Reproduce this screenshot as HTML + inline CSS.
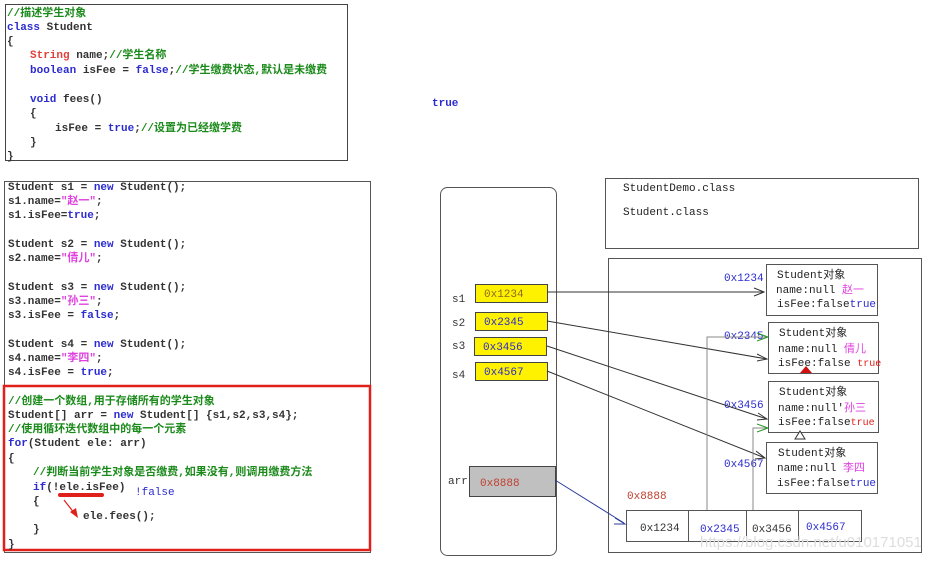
<!DOCTYPE html>
<html><head><meta charset="utf-8"><style>
html,body{margin:0;padding:0;background:#fff;}
svg{display:block;}
.c{font-family:"Liberation Mono","Noto Sans CJK SC",monospace;font-size:11px;font-weight:bold;}
.s{font-family:"Liberation Mono","Noto Sans CJK SC",monospace;font-size:11px;}
</style></head><body>
<svg width="929" height="561" viewBox="0 0 929 561" xmlns="http://www.w3.org/2000/svg">
<!-- class box -->
<rect x="5.5" y="4.5" width="342" height="156" fill="#fff" stroke="#444"/>
<g class="c">
<text x="7" y="16" fill="#1a8a1a">//描述学生对象</text>
<text x="7" y="30"><tspan fill="#2b2bd0">class</tspan><tspan fill="#333"> Student</tspan></text>
<text x="7" y="44" fill="#333">{</text>
<text x="30" y="58"><tspan fill="#e0403a">String</tspan><tspan fill="#333"> name;</tspan><tspan fill="#1a8a1a">//学生名称</tspan></text>
<text x="30" y="73"><tspan fill="#2b2bd0">boolean</tspan><tspan fill="#333"> isFee = </tspan><tspan fill="#2b2bd0">false</tspan><tspan fill="#333">;</tspan><tspan fill="#1a8a1a">//学生缴费状态,默认是未缴费</tspan></text>
<text x="30" y="102"><tspan fill="#2b2bd0">void</tspan><tspan fill="#333"> fees()</tspan></text>
<text x="30" y="116" fill="#333">{</text>
<text x="55" y="131"><tspan fill="#333">isFee = </tspan><tspan fill="#2b2bd0">true</tspan><tspan fill="#333">;</tspan><tspan fill="#1a8a1a">//设置为已经缴学费</tspan></text>
<text x="30" y="145" fill="#333">}</text>
<text x="7" y="159" fill="#333">}</text>
</g>
<text x="432" y="106" class="s" fill="#2b2bd0" font-weight="bold">true</text>

<!-- code box 2 -->
<rect x="4.5" y="181.5" width="366" height="371" fill="#fff" stroke="#555"/>
<g class="c" fill="#333">
<text x="8" y="190">Student s1  = <tspan fill="#2b2bd0">new</tspan> Student();</text>
<text x="8" y="204">s1.name=<tspan fill="#e040e0">"赵一"</tspan>;</text>
<text x="8" y="218">s1.isFee=<tspan fill="#2b2bd0">true</tspan>;</text>
<text x="8" y="247">Student s2  = <tspan fill="#2b2bd0">new</tspan> Student();</text>
<text x="8" y="261">s2.name=<tspan fill="#e040e0">"倩儿"</tspan>;</text>
<text x="8" y="290">Student s3  = <tspan fill="#2b2bd0">new</tspan> Student();</text>
<text x="8" y="304">s3.name=<tspan fill="#e040e0">"孙三"</tspan>;</text>
<text x="8" y="318">s3.isFee  = <tspan fill="#2b2bd0">false</tspan>;</text>
<text x="8" y="347">Student s4  = <tspan fill="#2b2bd0">new</tspan> Student();</text>
<text x="8" y="361">s4.name=<tspan fill="#e040e0">"李四"</tspan>;</text>
<text x="8" y="375">s4.isFee  = <tspan fill="#2b2bd0">true</tspan>;</text>
</g>
<rect x="4" y="386" width="366" height="164" fill="none" stroke="#e0201a" stroke-width="2.5"/>
<g class="c" fill="#333">
<text x="8" y="404" fill="#1a8a1a">//创建一个数组,用于存储所有的学生对象</text>
<text x="8" y="418">Student[] arr = <tspan fill="#2b2bd0">new</tspan> Student[] {s1,s2,s3,s4};</text>
<text x="8" y="432" fill="#1a8a1a">//使用循环迭代数组中的每一个元素</text>
<text x="8" y="446"><tspan fill="#2b2bd0">for</tspan>(Student ele: arr)</text>
<text x="8" y="461">{</text>
<text x="33" y="475" fill="#1a8a1a">//判断当前学生对象是否缴费,如果没有,则调用缴费方法</text>
<text x="33" y="490"><tspan fill="#2b2bd0">if</tspan>(!ele.isFee)</text>
<text x="33" y="504">{</text>
<text x="83" y="519">ele.fees();</text>
<text x="33" y="532">}</text>
<text x="8" y="547">}</text>
</g>
<text x="135" y="495" class="s" fill="#2b2bd0">!false</text>
<line x1="60" y1="495" x2="102" y2="495" stroke="#e0201a" stroke-width="4" stroke-linecap="round"/>
<line x1="64" y1="500" x2="75" y2="514" stroke="#e0201a" stroke-width="1.2"/>
<polygon points="78,518 70,512 76,508" fill="#e0201a"/>

<!-- stack -->
<rect x="440.5" y="187.5" width="116" height="368" rx="7" fill="#fff" stroke="#555"/>
<g class="s" fill="#333">
<text x="452" y="302">s1</text><text x="452" y="326">s2</text><text x="452" y="349">s3</text><text x="452" y="378">s4</text><text x="448" y="484">arr</text>
</g>
<g stroke="#444" fill="#fff200">
<rect x="475.5" y="284.5" width="72" height="18"/>
<rect x="475.5" y="312.5" width="72" height="18"/>
<rect x="474.5" y="337.5" width="72" height="18"/>
<rect x="475.5" y="362.5" width="72" height="18"/>
</g>
<g class="s">
<text x="484" y="297" fill="#8a6a20">0x1234</text>
<text x="484" y="325" fill="#2b2bd0">0x2345</text>
<text x="483" y="350" fill="#2b2bd0">0x3456</text>
<text x="484" y="375" fill="#2b2bd0">0x4567</text>
</g>
<rect x="469.5" y="466.5" width="86" height="30" fill="#c0c0c0" stroke="#444"/>
<text x="480" y="486" class="s" fill="#c04030">0x8888</text>

<!-- method area -->
<rect x="605.5" y="178.5" width="313" height="70" fill="#fff" stroke="#555"/>
<text x="623" y="191" class="s" fill="#222">StudentDemo.class</text>
<text x="623" y="215" class="s" fill="#222">Student.class</text>

<!-- heap -->
<rect x="608.5" y="258.5" width="313" height="294" fill="#fff" stroke="#555"/>
<g stroke="#555" fill="#fff">
<rect x="766.5" y="264.5" width="111" height="51"/>
<rect x="768.5" y="322.5" width="110" height="51"/>
<rect x="768.5" y="381.5" width="110" height="51"/>
<rect x="766.5" y="442.5" width="111" height="51"/>
<rect x="626.5" y="510.5" width="235" height="31"/>
</g>
<g stroke="#555"><line x1="688.5" y1="510" x2="688.5" y2="542"/><line x1="746.5" y1="510" x2="746.5" y2="542"/><line x1="798.5" y1="510" x2="798.5" y2="542"/></g>
<g class="s" fill="#222">
<text x="777" y="278">Student对象</text><text x="776" y="293">name:null <tspan fill="#e040e0">赵一</tspan></text><text x="777" y="307">isFee:false<tspan fill="#2b2bd0">true</tspan></text>
<text x="779" y="336">Student对象</text><text x="778" y="352">name:null <tspan fill="#e040e0">倩儿</tspan></text><text x="778" y="366">isFee:false <tspan fill="#e0201a" font-size="10">true</tspan></text>
<text x="779" y="395">Student对象</text><text x="778" y="411">name:null'<tspan fill="#e040e0">孙三</tspan></text><text x="778" y="425">isFee:false<tspan fill="#e0201a" font-size="10">true</tspan></text>
<text x="778" y="456">Student对象</text><text x="777" y="471">name:null <tspan fill="#e040e0">李四</tspan></text><text x="777" y="486">isFee:false<tspan fill="#2b2bd0">true</tspan></text>
</g>
<g class="s" fill="#2b2bd0">
<text x="724" y="281">0x1234</text><text x="724" y="339">0x2345</text><text x="724" y="408">0x3456</text><text x="724" y="467">0x4567</text>
<text x="640" y="531" fill="#333">0x1234</text><text x="700" y="532">0x2345</text><text x="752" y="532" fill="#333">0x3456</text><text x="806" y="530">0x4567</text>
</g>
<text x="627" y="499" class="s" fill="#c04030">0x8888</text>
<!-- connectors -->
<g stroke="#333" fill="none" stroke-width="1">
<line x1="547" y1="292" x2="764" y2="292"/><polyline points="754,288 764,292 754,296"/>
<line x1="547" y1="321" x2="767" y2="359"/><polyline points="757,354 767,359 757,361"/>
<line x1="547" y1="346" x2="767" y2="419"/><polyline points="758,413 767,419 757,420"/>
<line x1="547" y1="371" x2="765" y2="458"/><polyline points="756,451 765,458 755,459"/>
<line x1="555" y1="480" x2="624" y2="523" stroke="#2b3b9a"/><polyline points="615,518 625,524 614,524" stroke="#2b3b9a"/>
</g>
<g stroke="#888" fill="none">
<polyline points="707,510 707,337 768,337"/>
<polyline points="753,510 753,428 768,428"/>
</g>
<polyline points="757,333 768,337 757,341" stroke="#2a9a2a" fill="none"/>
<polyline points="757,424 768,428 757,432" stroke="#2a9a2a" fill="none"/>
<polygon points="800,373 806,366 812,373" fill="#d01010"/>
<polygon points="795,439 800,431 805,439" fill="#fff" stroke="#333"/>
<text x="700" y="547" font-family="Liberation Sans,sans-serif" font-size="15" fill="#ddd">https://blog.csdn.net/u010171051</text>
</svg>
</body></html>
